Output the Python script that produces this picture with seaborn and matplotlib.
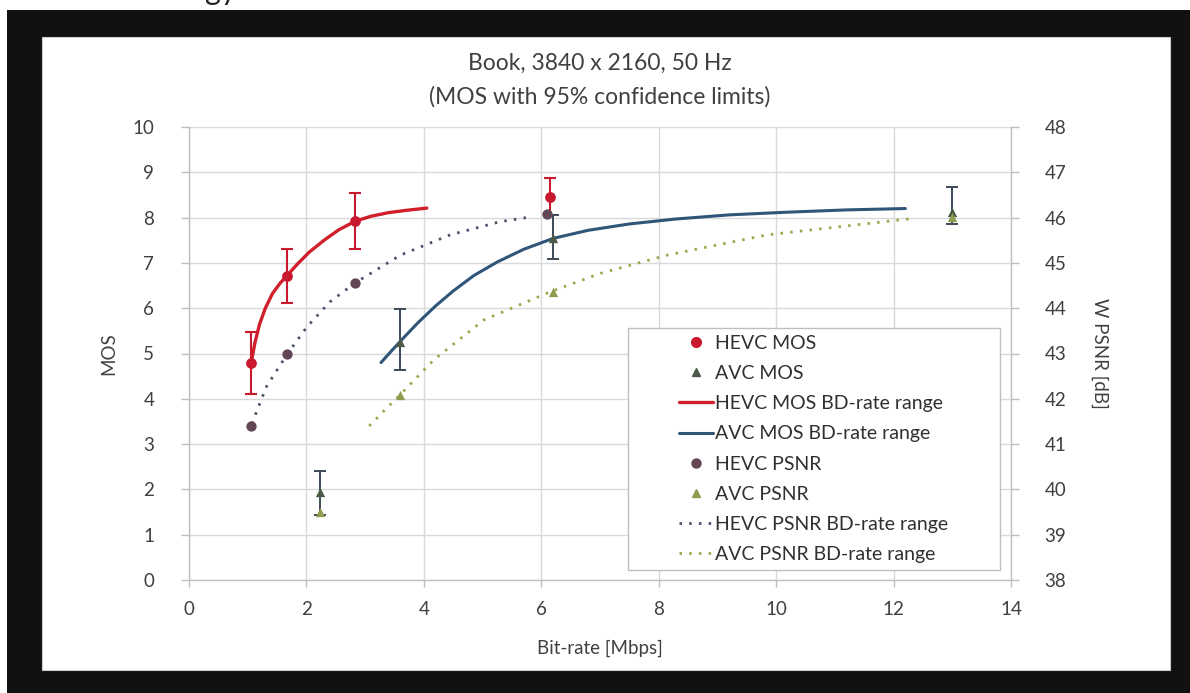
import matplotlib
matplotlib.use("Agg")
import matplotlib.pyplot as plt
from matplotlib.patches import Rectangle
from matplotlib.lines import Line2D
import seaborn as sns

# ---------------- data ----------------
hevc_mos_rate = [1.06, 1.67, 2.83, 6.14]
hevc_mos = [4.80, 6.71, 7.92, 8.45]
hevc_mos_lo = [4.10, 6.11, 7.30, 8.05]
hevc_mos_hi = [5.47, 7.30, 8.55, 8.87]

avc_mos_rate = [2.23, 3.59, 6.20, 13.0]
avc_mos = [1.95, 5.26, 7.54, 8.13]
avc_mos_lo = [1.43, 4.63, 7.08, 7.86]
avc_mos_hi = [2.41, 5.98, 8.06, 8.67]

hevc_psnr_rate = [1.06, 1.67, 2.83, 6.10]
hevc_psnr = [41.40, 42.98, 44.56, 46.09]

avc_psnr_rate = [2.23, 3.59, 6.20, 13.0]
avc_psnr = [39.51, 42.08, 44.36, 46.02]

hevc_mos_fit_rate = [1.06, 1.12, 1.20, 1.30, 1.42, 1.55, 1.67, 1.85, 2.05, 2.30,
                     2.55, 2.83, 3.10, 3.40, 3.70, 4.05]
hevc_mos_fit = [4.80, 5.22, 5.64, 6.00, 6.32, 6.55, 6.72, 6.98, 7.24, 7.50,
                7.73, 7.92, 8.03, 8.11, 8.16, 8.21]

avc_mos_fit_rate = [3.27, 3.45, 3.65, 3.90, 4.20, 4.50, 4.85, 5.25, 5.70, 6.20,
                    6.80, 7.50, 8.30, 9.20, 10.2, 11.2, 12.2]
avc_mos_fit = [4.80, 5.06, 5.34, 5.68, 6.05, 6.38, 6.72, 7.02, 7.30, 7.54,
               7.72, 7.86, 7.97, 8.06, 8.12, 8.17, 8.20]

hevc_psnr_fit_rate = [1.07, 1.32, 1.67, 2.01, 2.40, 2.83, 3.60, 4.45, 5.30, 5.85]
hevc_psnr_fit = [41.45, 42.27, 42.98, 43.59, 44.14, 44.56, 45.17, 45.62, 45.91, 46.02]

avc_psnr_fit_rate = [3.07, 3.31, 3.59, 4.17, 5.02, 6.15, 7.01, 8.14, 9.85, 12.12, 12.33]
avc_psnr_fit = [41.40, 41.72, 42.08, 42.86, 43.74, 44.36, 44.77, 45.17, 45.62, 45.95, 45.98]

x_ticks = [0, 2, 4, 6, 8, 10, 12, 14]
mos_ticks = list(range(0, 11))
psnr_ticks = list(range(38, 49))

legend_labels = ["HEVC MOS", "AVC MOS", "HEVC MOS BD-rate range", "AVC MOS BD-rate range",
                 "HEVC PSNR", "AVC PSNR", "HEVC PSNR BD-rate range", "AVC PSNR BD-rate range"]

title_line1 = "Book, 3840 x 2160, 50 Hz"
title_line2 = "(MOS with 95% confidence limits)"

# ---------------- styling ----------------
sns.set_theme(style="whitegrid")
FONT = ["Lato", "DejaVu Sans"]
plt.rcParams["font.family"] = FONT

RED = "#C8192E"
RED_LINE = "#D0202C"
AVC_MOS_C = "#4E5A48"
AVC_ERR_C = "#3B4A5A"
BLUE = "#2F5579"
HEVC_PSNR_C = "#634656"
HEVC_PSNR_LINE = "#4A5068"
AVC_PSNR_C = "#8E9C4E"
AVC_PSNR_LINE = "#98A84A"
GRID = "#D9D9D9"
SPINE = "#BFBFBF"
TXT = "#404040"

W, H = 1190, 693
fig = plt.figure(figsize=(W / 100, H / 100), dpi=100)
fig.patch.set_facecolor("white")

# black frame with white inner chart area
fig.patches.append(Rectangle((7 / W, 0), 1, 683 / H, transform=fig.transFigure,
                             facecolor="#111111", edgecolor="none", zorder=-10))
fig.patches.append(Rectangle((42 / W, 23 / H), (1170 - 42) / W, (656 - 23) / H,
                             transform=fig.transFigure, facecolor="white",
                             edgecolor="#CCCCCC", lw=0.8, zorder=-9))
# cropped caption fragment at the very top (cut off in the reference too)
fig.text(205 / W, 1.0, "gy", fontsize=22, color="#222222", va="baseline", ha="left")

ax = fig.add_axes([189 / W, 113 / H, 822 / W, 453 / H])
ax.set_facecolor("none")
ax.set_xlim(0, 14)
ax.set_ylim(0, 10)
ax.set_xticks(x_ticks)
ax.set_yticks(mos_ticks)
ax.grid(True, color=GRID, lw=1.0)
ax.set_axisbelow(True)
for s in ["top", "right"]:
    ax.spines[s].set_visible(False)
for s in ["left", "bottom"]:
    ax.spines[s].set_color(SPINE)
    ax.spines[s].set_linewidth(1.0)
ax.tick_params(axis="y", which="both", direction="out", length=6, width=1, color=SPINE,
               pad=19, labelsize=13.5, labelcolor=TXT, left=True)
ax.tick_params(axis="x", which="both", direction="out", length=5, width=1, color=SPINE,
               pad=10, labelsize=13.5, labelcolor=TXT, bottom=True)
ax.set_ylabel("MOS", fontsize=13.5, color=TXT, labelpad=11)
ax.set_xlabel("Bit-rate [Mbps]", fontsize=13.5, color=TXT, labelpad=16)

ax2 = ax.twinx()
ax2.set_ylim(38, 48)
ax2.set_yticks(psnr_ticks)
ax2.grid(False)
for s in ["top", "left", "bottom"]:
    ax2.spines[s].set_visible(False)
ax2.spines["right"].set_color(SPINE)
ax2.spines["right"].set_linewidth(1.0)
ax2.tick_params(axis="y", direction="out", length=6, width=1, color=SPINE, pad=18,
                labelsize=13.5, labelcolor=TXT, right=True)
ax2.set_ylabel("W PSNR [dB]", fontsize=13.5, color=TXT, rotation=270, labelpad=30)

# ---------------- MOS (left axis) ----------------
sns.lineplot(x=hevc_mos_fit_rate, y=hevc_mos_fit, ax=ax, color=RED_LINE, lw=2.4,
             sort=False, estimator=None, legend=False, zorder=3)
sns.lineplot(x=avc_mos_fit_rate, y=avc_mos_fit, ax=ax, color=BLUE, lw=2.2,
             sort=False, estimator=None, legend=False, zorder=3)

ax.errorbar(hevc_mos_rate, hevc_mos,
            yerr=[[m - l for m, l in zip(hevc_mos, hevc_mos_lo)],
                  [h - m for m, h in zip(hevc_mos, hevc_mos_hi)]],
            fmt="none", ecolor=RED, elinewidth=1.5, capsize=4, capthick=1.5, zorder=4)
ax.errorbar(avc_mos_rate, avc_mos,
            yerr=[[m - l for m, l in zip(avc_mos, avc_mos_lo)],
                  [h - m for m, h in zip(avc_mos, avc_mos_hi)]],
            fmt="none", ecolor=AVC_ERR_C, elinewidth=1.4, capsize=4, capthick=1.4, zorder=4)

sns.scatterplot(x=hevc_mos_rate, y=hevc_mos, ax=ax, marker="o", s=60, color=RED,
                linewidth=0, zorder=5, legend=False)
sns.scatterplot(x=avc_mos_rate, y=avc_mos, ax=ax, marker="^", s=45, color=AVC_MOS_C,
                linewidth=0, zorder=5, legend=False)

# ---------------- PSNR (right axis) ----------------
DOT = (0, (0.9, 2.6))
sns.lineplot(x=hevc_psnr_fit_rate, y=hevc_psnr_fit, ax=ax2, color=HEVC_PSNR_LINE, lw=2.0,
             linestyle=DOT, sort=False, estimator=None, legend=False, zorder=3)
sns.lineplot(x=avc_psnr_fit_rate, y=avc_psnr_fit, ax=ax2, color=AVC_PSNR_LINE, lw=2.0,
             linestyle=DOT, sort=False, estimator=None, legend=False, zorder=3)
sns.scatterplot(x=hevc_psnr_rate, y=hevc_psnr, ax=ax2, marker="o", s=55, color=HEVC_PSNR_C,
                linewidth=0, zorder=5, legend=False)
sns.scatterplot(x=avc_psnr_rate, y=avc_psnr, ax=ax2, marker="^", s=45, color=AVC_PSNR_C,
                linewidth=0, zorder=5, legend=False)

# ---------------- title ----------------
fig.text(600 / W, 1 - 63 / H, title_line1, ha="center", va="center", fontsize=16.5,
         color=TXT)
fig.text(600 / W, 1 - 97 / H, title_line2, ha="center", va="center", fontsize=16.5,
         color=TXT)

# ---------------- legend ----------------
fig.patches.append(Rectangle((628 / W, (H - 570) / H), (1000 - 628) / W, (570 - 328) / H,
                             transform=fig.transFigure, facecolor="white",
                             edgecolor=SPINE, lw=1.0, zorder=1))
handles = [
    Line2D([], [], marker="o", color=RED, linestyle="none", markersize=7),
    Line2D([], [], marker="^", color=AVC_MOS_C, linestyle="none", markersize=6),
    Line2D([], [], color=RED_LINE, lw=2.4),
    Line2D([], [], color=BLUE, lw=2.2),
    Line2D([], [], marker="o", color=HEVC_PSNR_C, linestyle="none", markersize=6.5),
    Line2D([], [], marker="^", color=AVC_PSNR_C, linestyle="none", markersize=6),
    Line2D([], [], color=HEVC_PSNR_LINE, lw=2.0, linestyle=DOT),
    Line2D([], [], color=AVC_PSNR_LINE, lw=2.0, linestyle=DOT),
]
leg = fig.legend(handles, legend_labels, loc="center",
                 bbox_to_anchor=(814 / W, 1 - 449 / H), frameon=False, fontsize=14,
                 handlelength=1.75, handletextpad=0.1, labelspacing=0.68, borderpad=0)
leg.set_zorder(2)
for t in leg.get_texts():
    t.set_color("#303030")

fig.savefig("out.png", dpi=100)
